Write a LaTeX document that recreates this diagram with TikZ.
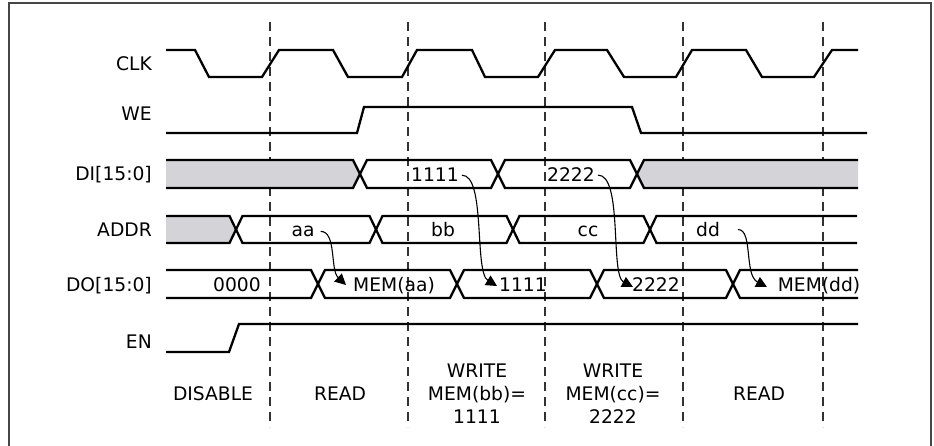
\documentclass[tikz,border=0pt]{standalone}
\usepackage{fontspec}
\setmainfont{DejaVu Sans}
\usetikzlibrary{arrows.meta}
\definecolor{busgray}{RGB}{212,212,216}
\definecolor{framegray}{RGB}{70,70,70}
\definecolor{dashgray}{RGB}{50,50,50}
\begin{document}
\begin{tikzpicture}[x=1pt,y=-1pt,
  font=\fontsize{18.7}{23}\selectfont,
  sig/.style={line width=2.3pt},
  rail/.style={line width=2.3pt},
  frame/.style={line width=1.5pt, draw=framegray},
  divider/.style={line width=1.4pt, draw=dashgray, dash pattern=on 9pt off 6pt},
  lbl/.style={anchor=base east, inner sep=0pt},
  val/.style={anchor=base, inner sep=0pt},
  phase/.style={anchor=base, align=center, inner sep=0pt},
  flow/.style={line width=1.1pt, -{Triangle[length=11pt,width=11pt]}}]
\useasboundingbox (0,0) rectangle (934,446);
% frame
\draw[frame] (9,450) -- (9,3) -- (931,3) -- (931,450);
% dashed dividers
\foreach \x in {270,408,545,683,823}
  \draw[divider] (\x,22) -- (\x,427);
% signal names
\node[lbl] (nclk) at (152,70.25) {CLK};
\node[lbl] (nwe) at (152,121) {WE};
\node[lbl] (ndi) at (152,181) {DI[15:0]};
\node[lbl] (naddr) at (152,236.5) {ADDR};
\node[lbl] (ndo) at (152,291) {DO[15:0]};
\node[lbl] (nen) at (152,348) {EN};
% CLK
\draw[sig] (166,50) -- (195,50) -- (209,77) -- (262,77) -- (279,50) -- (333,50) -- (348,77) -- (402,77) -- (417,50) -- (472,50) -- (485,77) -- (538,77) -- (555,50) -- (607,50) -- (624,77) -- (676,77) -- (692,50) -- (746,50) -- (762,77) -- (814,77) -- (832,50) -- (858,50);
% WE
\draw[sig] (166,133) -- (357,133) -- (364,107) -- (632,107) -- (641,133) -- (867,133);
% EN
\draw[sig] (166,352) -- (229,352) -- (239,324) -- (858,324);
% DI bus
\fill[busgray] (166,160) -- (353,160) -- (360,174) -- (353,188) -- (166,188) -- cycle;
\fill[busgray] (858,160) -- (644,160) -- (637,174) -- (644,188) -- (858,188) -- cycle;
\draw[rail] (166,160) -- (353,160) -- (367,188) -- (491,188) -- (505,160) -- (630,160) -- (644,188) -- (858,188);
\draw[rail] (166,188) -- (353,188) -- (367,160) -- (491,160) -- (505,188) -- (630,188) -- (644,160) -- (858,160);
% ADDR bus
\fill[busgray] (166,216) -- (229.5,216) -- (236,229.5) -- (229.5,243) -- (166,243) -- cycle;
\draw[rail] (166,216) -- (229.5,216) -- (242.5,243) -- (369.5,243) -- (382.5,216) -- (506.5,216) -- (519.5,243) -- (643.5,243) -- (656.5,216) -- (857,216);
\draw[rail] (166,243) -- (229.5,243) -- (242.5,216) -- (369.5,216) -- (382.5,243) -- (506.5,243) -- (519.5,216) -- (643.5,216) -- (656.5,243) -- (857,243);
% DO bus
\draw[rail] (166,270) -- (311,270) -- (325,298) -- (450,298) -- (464,270) -- (590,270) -- (604,298) -- (726,298) -- (740,270) -- (858,270);
\draw[rail] (166,298) -- (311,298) -- (325,270) -- (450,270) -- (464,298) -- (590,298) -- (604,270) -- (726,270) -- (740,298) -- (858,298);
% bus values
\node[val] (di1) at (435,182) {1111};
\node[val] (di2) at (571,182) {2222};
\node[val] (aa) at (303,236.5) {aa};
\node[val] (bb) at (443,236.5) {bb};
\node[val] (cc) at (588,236.5) {cc};
\node[val] (dd) at (708,236.5) {dd};
\node[val] (do0) at (237,291.5) {0000};
\node[val] (doaa) at (394,291.5) {MEM(aa)};
\node[val] (do1) at (523,291.5) {1111};
\node[val] (do2) at (656,291.5) {2222};
\node[val] (dodd) at (819,291.5) {MEM(dd)};
% arrow tips
\coordinate (taa) at (346,285);
\coordinate (t1) at (497,286);
\coordinate (t2) at (633,287);
\coordinate (tdd) at (767,287);
\draw[flow] ([xshift=6pt]aa.east) .. controls +(16,0) and +(-16,-15) .. (taa);
\draw[flow] ([xshift=3pt]di1.east) .. controls +(24,0) and +(-23,-14) .. (t1);
\draw[flow] ([xshift=3pt]di2.east) .. controls +(25,0) and +(-23,-12) .. (t2);
\draw[flow] ([xshift=18pt]dd.east) .. controls +(15,0) and +(-23,-12) .. (tdd);
% phases
\node[phase] (p1) at (213,400) {DISABLE};
\node[phase] (p2) at (340,400) {READ};
\node[phase] (p3) at (477,423.5) {WRITE\\MEM(bb)=\\1111};
\node[phase] (p4) at (613,423.5) {WRITE\\MEM(cc)=\\2222};
\node[phase] (p5) at (759,400) {READ};
\end{tikzpicture}
\end{document}
